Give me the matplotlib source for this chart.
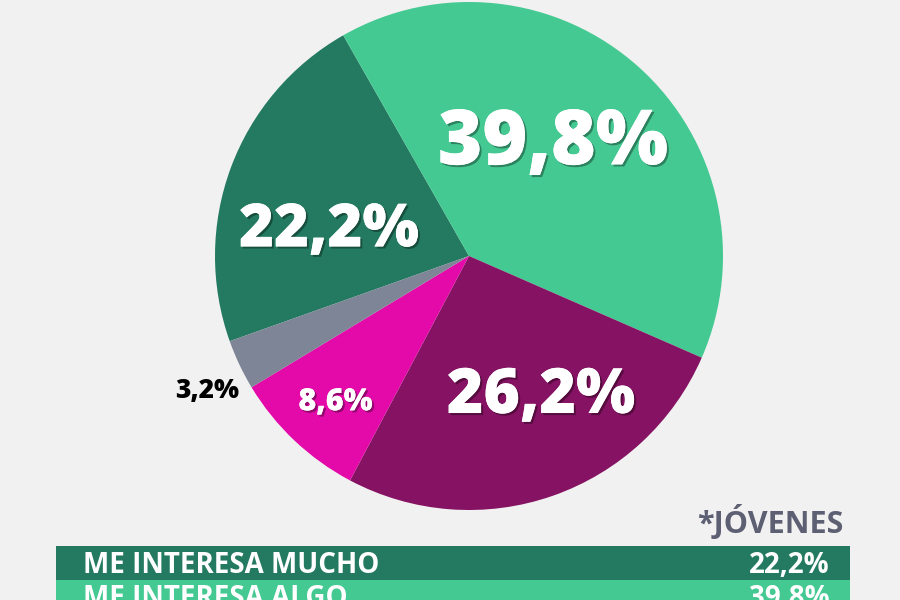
import numpy as np
import matplotlib.pyplot as plt
import matplotlib.patheffects as pe
from matplotlib.patches import Rectangle

# datos
valores = [22.2, 39.8, 26.2, 8.6, 3.2]
etiquetas = ['22,2%', '39,8%', '26,2%', '8,6%', '3,2%']
colores = ['#237a60', '#45c992', '#851262', '#e30aa9', '#7d8596']
filas = ['ME INTERESA MUCHO', 'ME INTERESA ALGO']
filas_val = ['22,2%', '39,8%']
filas_color = ['#237a60', '#45c992']

# estilo de etiquetas: tamaño, color, distancia radial, giro en grados
lab_size = [43, 55, 45, 22, 19]
lab_color = ['white', 'white', 'white', 'white', 'black']
lab_r = [0.56, 0.55, 0.62, 0.78, 1.16]
lab_rot = [10, 5, 8, 1, 2]

fuente = ['Open Sans', 'DejaVu Sans']

fig = plt.figure(figsize=(9, 6), dpi=100)
fig.patch.set_facecolor('#f1f1f1')
ax = fig.add_axes([0, 0, 1, 1])

cx, cy, r = 469, 344, 254
wedges, _ = ax.pie(valores, colors=colores, startangle=-160.4, counterclock=False,
                   center=(cx, cy), radius=r, frame=True,
                   wedgeprops=dict(linewidth=0))
ax.set_xlim(0, 900)
ax.set_ylim(0, 600)
ax.set_aspect('equal')
ax.axis('off')

sombra = [pe.withSimplePatchShadow(offset=(1.5, -1.5), shadow_rgbFace='black', alpha=0.35), pe.Normal()]
for w, t, s, c, k, d in zip(wedges, etiquetas, lab_size, lab_color, lab_r, lab_rot):
    ang = np.deg2rad((w.theta1 + w.theta2) / 2 + d)
    x = cx + k * r * np.cos(ang)
    y = cy + k * r * np.sin(ang)
    ax.text(x, y, t, ha='center', va='center', fontsize=s, color=c,
            fontweight='heavy', family=fuente,
            path_effects=sombra if c == 'white' else None)

# tabla inferior
ax.text(843, 67, '*JÓVENES', ha='right', va='baseline', fontsize=22,
        color='#5d5f72', fontweight='bold', family=fuente)
alto = 33.5
for i, (f, v, col) in enumerate(zip(filas, filas_val, filas_color)):
    top = 54 - i * alto
    ax.add_patch(Rectangle((56, top - alto), 794, alto, color=col, lw=0))
    ax.text(83, top - 27, f, ha='left', va='baseline', fontsize=20,
            color='white', fontweight='bold', family=fuente)
    ax.text(830, top - 27, v, ha='right', va='baseline', fontsize=20,
            color='white', fontweight='bold', family=fuente)

fig.savefig('out.png', dpi=100, facecolor=fig.get_facecolor())
